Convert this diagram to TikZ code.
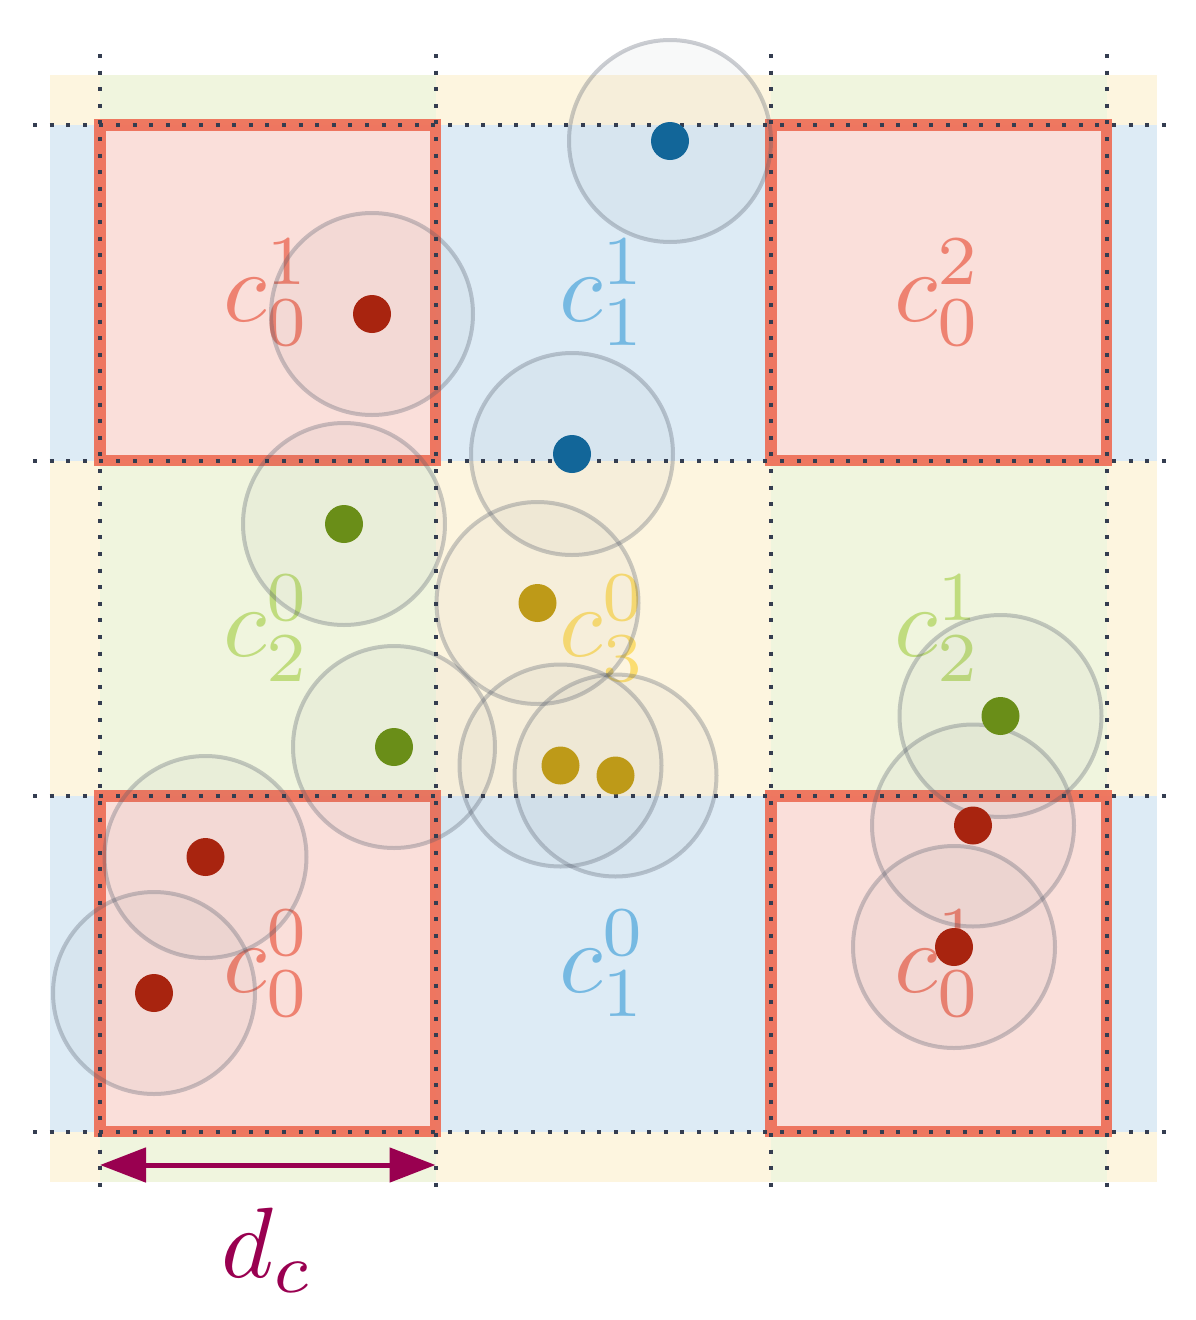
\documentclass[tikz,border=0pt]{standalone}
\usepackage{graphicx}
\usetikzlibrary{arrows.meta}
\definecolor{bgY}{HTML}{FDF5DF}
\definecolor{bgG}{HTML}{F0F5DE}
\definecolor{bgB}{HTML}{DDEBF5}
\definecolor{bgR}{HTML}{FADFDA}
\definecolor{bordR}{HTML}{EE6E56}
\definecolor{labR}{HTML}{EE8271}
\definecolor{labB}{HTML}{76B9E2}
\definecolor{labG}{HTML}{C0DC7E}
\definecolor{labY}{HTML}{FBDD72}
\definecolor{dotR}{HTML}{A8240F}
\definecolor{dotB}{HTML}{126699}
\definecolor{dotG}{HTML}{6A8E18}
\definecolor{dotY}{HTML}{BE9A18}
\definecolor{gridc}{HTML}{343D50}
\definecolor{ringc}{HTML}{525A6A}
\definecolor{arrc}{HTML}{990050}
\newcommand{\bigmath}[1]{\scalebox{10}{$#1$}}
\tikzset{
  redcell/.style={fill=bgR, draw=bordR, draw opacity=0.92, line width=11.5},
  celllabel/.style={inner sep=0pt},
  ring/.style={draw=ringc, draw opacity=0.3, line width=4, fill=ringc, fill opacity=0.04},
  gridline/.style={draw=gridc, line width=4, dash pattern=on 4 off 12.6},
  pt/.style={circle, inner sep=0pt, minimum size=38},
}
\begin{document}
\begin{tikzpicture}[x=1pt,y=-1pt]
\useasboundingbox (0,0) rectangle (1196,1320);
% backgrounds
\fill[bgY] (50,75) rectangle (1157,1182);
\fill[bgB] (50,125) rectangle (1157,460.5);
\fill[bgB] (50,796) rectangle (1157,1131.5);
\foreach \ya/\yb in {75/125, 460.5/796, 1131.5/1182}{
  \fill[bgG] (100,\ya) rectangle (435.5,\yb);
  \fill[bgG] (771,\ya) rectangle (1106.5,\yb);
}
% red cells
\draw[redcell] (100,125) rectangle (435.5,460.5);
\draw[redcell] (771,125) rectangle (1106.5,460.5);
\draw[redcell] (100,796) rectangle (435.5,1131.5);
\draw[redcell] (771,796) rectangle (1106.5,1131.5);
% labels
\node[celllabel, text=labR] (l00) at (267.75,292.75) {\bigmath{c_0^1}};
\node[celllabel, text=labB] (l10) at (603.25,292.75) {\bigmath{c_1^1}};
\node[celllabel, text=labR] (l20) at (938.75,292.75) {\bigmath{c_0^2}};
\node[celllabel, text=labG] (l01) at (267.75,628.25) {\bigmath{c_2^0}};
\node[celllabel, text=labY] (l11) at (603.25,628.25) {\bigmath{c_3^0}};
\node[celllabel, text=labG] (l21) at (938.75,628.25) {\bigmath{c_2^1}};
\node[celllabel, text=labR] (l02) at (267.75,963.75) {\bigmath{c_0^0}};
\node[celllabel, text=labB] (l12) at (603.25,963.75) {\bigmath{c_1^0}};
\node[celllabel, text=labR] (l22) at (938.75,963.75) {\bigmath{c_0^1}};
% rings
\foreach \px/\py in {670/141, 372/314, 572/454, 344/524, 537.5/603, 394/747, 560.5/765.5, 615.5/775.5, 1000.5/716, 205.5/857, 973/825.5, 154/993, 954/947}{
  \path[ring] (\px,\py) circle[radius=101];
}
% grid
\foreach \gy in {125, 460.5, 796, 1131.5}{
  \draw[gridline] (33,\gy) -- (1176,\gy);
}
\foreach \gx in {100, 435.5, 771, 1106.5}{
  \draw[gridline] (\gx,54) -- (\gx,1198);
}
% dots
\node[pt, fill=dotB] (p1) at (670,141) {};
\node[pt, fill=dotR] (p2) at (372,314) {};
\node[pt, fill=dotB] (p3) at (572,454) {};
\node[pt, fill=dotG] (p4) at (344,524) {};
\node[pt, fill=dotY] (p5) at (537.5,603) {};
\node[pt, fill=dotG] (p6) at (394,747) {};
\node[pt, fill=dotY] (p7) at (560.5,765.5) {};
\node[pt, fill=dotY] (p8) at (615.5,775.5) {};
\node[pt, fill=dotG] (p9) at (1000.5,716) {};
\node[pt, fill=dotR] (p10) at (205.5,857) {};
\node[pt, fill=dotR] (p11) at (973,825.5) {};
\node[pt, fill=dotR] (p12) at (154,993) {};
\node[pt, fill=dotR] (p13) at (954,947) {};
% dimension arrow
\coordinate (dA) at (100,1165);
\coordinate (dB) at (435.5,1165);
\draw[arrc, line width=5, {Stealth[length=46,width=34,inset=0]}-{Stealth[length=46,width=34,inset=0]}] (dA) -- (dB);
\node[celllabel, text=arrc] (dlab) at (267.75,1250) {\bigmath{d_c}};
\end{tikzpicture}
\end{document}
